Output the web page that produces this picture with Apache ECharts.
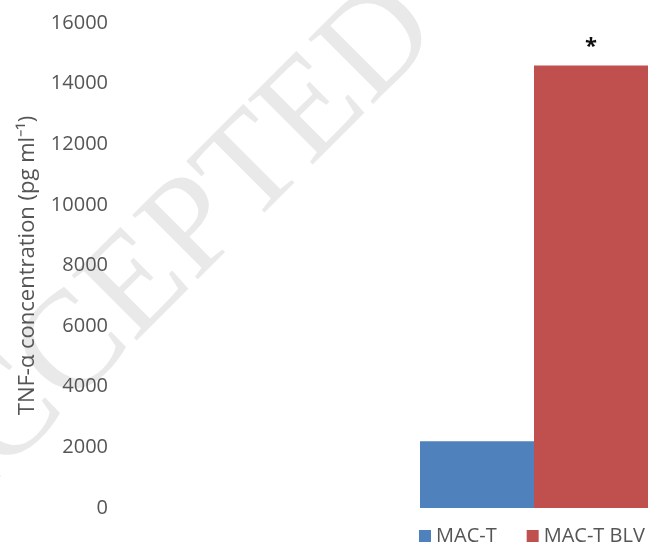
<!DOCTYPE html>
<html>
<head>
<meta charset="utf-8">
<script src="https://cdn.jsdelivr.net/npm/echarts@6/dist/echarts.min.js"></script>
<style>html,body{margin:0;padding:0;background:#fff}#c{width:657px;height:550px}</style>
</head>
<body>
<div id="c"></div>
<script>
const categories = ['TNF-α'];
const seriesNames = ['MAC-T', 'MAC-T BLV'];
const macT = [2200];
const macTBLV = [14600];
const significance = ['', '*'];
const yTicks = [0, 2000, 4000, 6000, 8000, 10000, 12000, 14000, 16000];

const chart = echarts.init(document.getElementById('c'), null, {renderer: 'canvas'});
const font = 'Open Sans';
const txt = '#555555';
chart.setOption({
  animation: false,
  backgroundColor: '#fff',
  graphic: [{
    type: 'text', z: -10,
    x: 160, y: 265, rotation: Math.PI / 4,
    style: {text: 'ACCEPTED', x: 0, y: 0, align: 'center', verticalAlign: 'middle',
      font: '140px "Liberation Serif"', fill: '#e9e9e9'}
  }],
  grid: {left: 420, right: 9, top: 23, bottom: 42},
  legend: {
    data: seriesNames, bottom: -1, left: 414, itemWidth: 12, itemHeight: 12, itemGap: 30,
    icon: 'rect',
    textStyle: {fontFamily: font, fontSize: 20, color: txt}
  },
  xAxis: {
    type: 'category', data: categories,
    axisLine: {show: false}, axisTick: {show: false}, axisLabel: {show: false}
  },
  yAxis: {
    type: 'value', min: yTicks[0], max: yTicks[yTicks.length - 1], interval: 2000,
    axisLine: {show: false}, axisTick: {show: false}, splitLine: {show: false},
    axisLabel: {margin: 312, fontFamily: font, fontSize: 20, color: txt,
      formatter: v => String(v)},
    name: 'TNF-α concentration (pg ml⁻¹)', nameLocation: 'middle', nameGap: 381,
    nameTextStyle: {fontFamily: font, fontSize: 22, color: txt}
  },
  series: [
    {name: seriesNames[0], type: 'bar', data: macT, barGap: '0%', barCategoryGap: '0%',
     itemStyle: {color: '#4F81BD'},
     label: {show: true, position: 'top', formatter: () => significance[0]}},
    {name: seriesNames[1], type: 'bar', data: macTBLV, barGap: '0%', barCategoryGap: '0%',
     itemStyle: {color: '#C0504D'},
     label: {show: true, position: 'top', distance: 8, formatter: () => significance[1],
       fontSize: 22, fontWeight: 'bold', color: '#111', fontFamily: font}}
  ]
});
</script>
</body>
</html>
